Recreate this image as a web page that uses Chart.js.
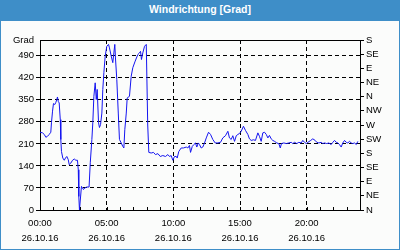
<!DOCTYPE html>
<html>
<head>
<meta charset="utf-8">
<script src="https://cdn.jsdelivr.net/npm/chart.js@4"></script>
<style>
html,body{margin:0;padding:0;width:400px;height:250px;overflow:hidden;background:#fff;}
#frame{position:absolute;left:0;top:0;width:400px;height:250px;box-sizing:border-box;border:1px solid #3e8ec8;background:#fbfcfb;}
#title{position:absolute;left:0;top:0;width:400px;height:21px;background:#3e8ec8;color:#fff;font:bold 10.5px "Liberation Sans";text-align:center;line-height:19px;}
#c{position:absolute;left:0;top:0;}
</style>
</head>
<body>
<div id="frame"></div>
<canvas id="c" width="400" height="250"></canvas>
<div id="title">Windrichtung [Grad]</div>
<script>
// ---- data ----
const chartTitle = 'Windrichtung [Grad]';
const hours = [
  0.00,0.19,0.32,0.44,0.56,0.69,0.81,0.86,0.94,1.01,1.11,1.19,1.26,1.31,1.37,1.44,1.52,1.56,1.61,1.71,
  1.82,1.91,2.01,2.12,2.19,2.31,2.44,2.57,2.69,2.81,2.87,2.91,2.96,3.11,3.26,3.36,3.51,3.68,3.77,3.89,
  3.96,4.04,4.14,4.22,4.29,4.39,4.46,4.54,4.64,4.71,4.79,4.89,5.01,5.14,5.21,5.34,5.46,5.54,5.61,5.66,
  5.76,5.87,5.96,6.09,6.21,6.29,6.36,6.47,6.54,6.71,6.84,6.96,7.14,7.34,7.46,7.54,7.61,7.71,7.84,7.97,
  8.08,8.16,8.34,8.51,8.66,8.84,9.02,9.21,9.41,9.59,9.71,9.84,9.96,10.09,10.22,10.29,10.41,10.59,10.76,10.97,
  11.09,11.21,11.29,11.42,11.54,11.66,11.76,11.87,11.96,12.09,12.21,12.34,12.47,12.64,12.79,12.96,13.14,13.34,13.54,13.71,
  13.91,14.09,14.21,14.34,14.46,14.59,14.72,14.84,14.96,15.09,15.26,15.41,15.59,15.71,15.84,16.01,16.16,16.34,16.46,16.59,
  16.71,16.84,16.97,17.09,17.21,17.34,17.46,17.59,17.76,17.91,18.02,18.11,18.29,18.47,18.66,18.84,18.96,19.09,19.26,19.41,
  19.59,19.71,19.84,19.97,20.09,20.27,20.46,20.64,20.76,20.91,21.09,21.21,21.34,21.51,21.66,21.84,21.96,22.09,22.22,22.34,
  22.46,22.59,22.71,22.84,22.97,23.09,23.21,23.34,23.46,23.59,23.72,23.84
];
const directionDeg = [
  247,245,240,231,234,240,247,277,314,338,335,342,351,359,345,340,287,224,186,165,
  158,165,170,160,144,149,158,162,158,158,128,43,0,75,65,70,73,73,150,224,
  277,361,404,351,383,277,262,271,308,383,436,489,520,526,515,489,468,499,526,483,
  414,308,224,213,202,197,255,308,356,361,425,452,473,494,499,504,478,499,520,526,
  270,183,181,183,176,179,170,173,170,176,170,173,158,170,170,165,186,197,197,200,
  197,205,183,202,208,213,200,213,208,197,200,213,229,247,240,224,213,213,215,229,
  236,250,229,224,236,218,236,240,243,250,266,253,240,226,221,223,221,245,234,218,
  245,247,240,229,237,226,221,218,213,211,197,211,213,211,213,215,211,215,211,215,
  213,221,215,211,215,220,226,221,215,213,215,211,213,211,213,208,215,221,215,213,
  208,200,213,221,215,213,218,213,211,213,208,218
];
const gradTicks = [0,70,140,210,280,350,420,490];
const gradTopLabel = 'Grad';
const compassLabels = ['N','NE','E','SE','S','SW','W','NW','N','NE','E','SE','S'];
const timeLabels = ['00:00','05:00','10:00','15:00','20:00'];
const dateLabel = '26.10.16';

// ---- chart ----
const xFont = {family:'Liberation Sans', size:9.5, lineHeight:1.6};
const yFont = {family:'Liberation Sans', size:9.5, lineHeight:1.1};
const frameLines = {
  id:'frameLines',
  afterDraw(chart){
    const {ctx, chartArea:a} = chart;
    const xs = chart.scales.x;
    ctx.save();
    ctx.strokeStyle = '#000';
    ctx.lineWidth = 1;
    ctx.setLineDash([]);
    ctx.beginPath();
    ctx.moveTo(a.left, Math.round(a.top)+0.5);
    ctx.lineTo(a.right, Math.round(a.top)+0.5);
    xs.ticks.forEach(t => {
      const px = Math.round(xs.getPixelForValue(t.value)) + 0.5;
      ctx.moveTo(px, a.bottom);
      ctx.lineTo(px, a.bottom - 3);
    });
    ctx.stroke();
    ctx.restore();
  }
};

new Chart(document.getElementById('c'), {
  type:'line',
  data:{datasets:[{
    data: hours.map((h,i)=>({x:h, y:directionDeg[i]})),
    borderColor:'#1414f0', borderWidth:1, pointRadius:0, tension:0, fill:false
  }]},
  options:{
    responsive:false, animation:false,
    layout:{padding:{top:40, left:0, right:0, bottom:0}},
    plugins:{legend:{display:false}, tooltip:{enabled:false}, title:{display:false}},
    scales:{
      x:{
        type:'linear', min:0, max:24,
        afterFit:s=>{s.height=40;},
        ticks:{stepSize:1, autoSkip:false, maxRotation:0, padding:6, color:'#000', font:xFont,
          callback:v=> (v%5===0 && v<24) ? [timeLabels[v/5], dateLabel] : ''},
        grid:{drawTicks:false, lineWidth:1,
          color:c=> (c.tick && c.tick.value%5===0 && c.tick.value>0 && c.tick.value<24) ? '#000' : 'rgba(0,0,0,0)'},
        border:{display:true, color:'#000', dash:[4,3]}
      },
      y:{
        position:'left', min:0, max:540,
        afterFit:s=>{s.width=40;},
        afterBuildTicks:s=>{ s.ticks = gradTicks.concat([540]).map(v=>({value:v})); },
        ticks:{padding:2, autoSkip:false, color:'#000', font:yFont,
          callback:v=> v===540 ? gradTopLabel : String(v)},
        grid:{color:'#000', lineWidth:1, tickLength:4, tickBorderDash:[],
          tickColor:c=> (c.tick && c.tick.value===540) ? 'rgba(0,0,0,0)' : '#000'},
        border:{display:true, color:'#000', dash:[4,3]}
      },
      y2:{
        position:'right', min:0, max:540,
        afterFit:s=>{s.width=40;},
        ticks:{stepSize:45, autoSkip:false, padding:2, color:'#000', font:yFont,
          callback:v=> compassLabels[Math.round(v/45)]},
        grid:{drawOnChartArea:false, tickLength:4, color:'#000', tickBorderDash:[]},
        border:{display:true, color:'#000'}
      }
    }
  },
  plugins:[frameLines]
});
</script>
</body>
</html>
